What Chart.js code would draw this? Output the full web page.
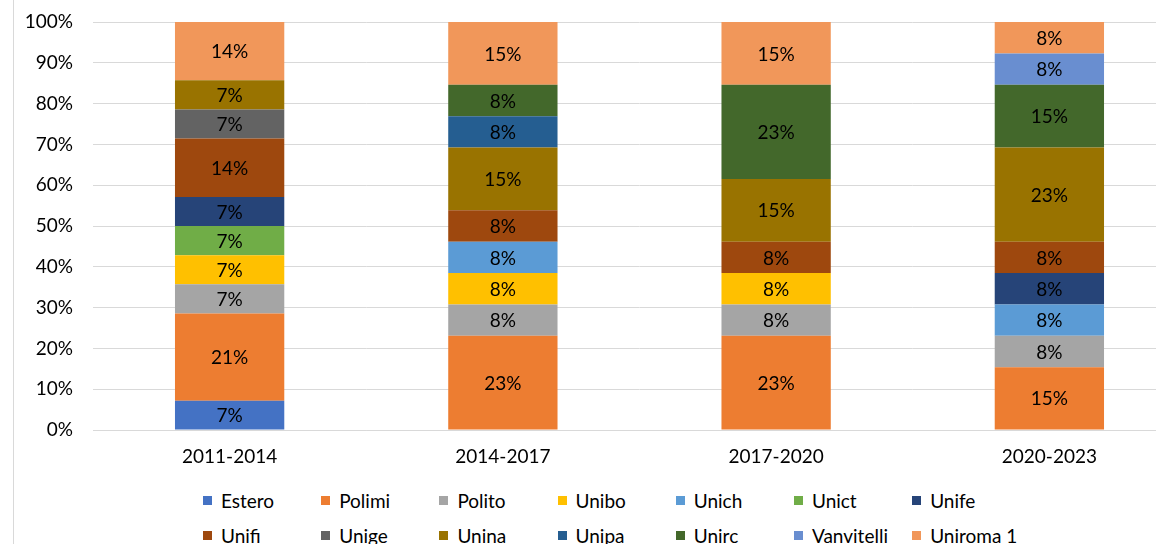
<!DOCTYPE html>
<html>
<head>
<meta charset="utf-8">
<script src="https://cdn.jsdelivr.net/npm/chart.js@4"></script>
<style>
  html, body { margin: 0; padding: 0; background: #fff; overflow: hidden; width: 1156px; height: 544px; }
  #wrap { position: absolute; left: 0; top: 0; width: 1186px; height: 470px; }
  #frame { position: absolute; left: 13px; top: 0; width: 1px; height: 544px; background: #d9d9d9; }
  #legend {
    position: absolute; left: 203px; top: 490px;
    display: grid; grid-template-columns: repeat(7, 118.2px); row-gap: 15px;
    font-family: Lato, sans-serif; font-size: 19px; color: #000;
  }
  .item { display: flex; align-items: center; height: 20px; white-space: nowrap; }
  .box { width: 9px; height: 9px; margin-right: 9px; flex: none; }
</style>
</head>
<body>
<div id="frame"></div>
<div id="wrap"><canvas id="chart" width="1186" height="470"></canvas></div>
<div id="legend"></div>
<script>
// periodi
const categories = ['2011-2014', '2014-2017', '2017-2020', '2020-2023'];

// quote percentuali per ateneo (una voce per periodo)
const estero     = [7.14, 0, 0, 0];
const polimi     = [21.43, 23.08, 23.08, 15.38];
const polito     = [7.14, 7.69, 7.69, 7.69];
const unibo      = [7.14, 7.69, 7.69, 0];
const unich      = [0, 7.69, 0, 7.69];
const unict      = [7.14, 0, 0, 0];
const unife      = [7.14, 0, 0, 7.69];
const unifi      = [14.29, 7.69, 7.69, 7.69];
const unige      = [7.14, 0, 0, 0];
const unina      = [7.14, 15.38, 15.38, 23.08];
const unipa      = [0, 7.69, 0, 0];
const unirc      = [0, 7.69, 23.08, 15.38];
const vanvitelli = [0, 0, 0, 7.69];
const uniroma1   = [14.29, 15.38, 15.38, 7.69];

const seriesNames = ['Estero', 'Polimi', 'Polito', 'Unibo', 'Unich', 'Unict', 'Unife',
                     'Unifi', 'Unige', 'Unina', 'Unipa', 'Unirc', 'Vanvitelli', 'Uniroma 1'];
const seriesValues = [estero, polimi, polito, unibo, unich, unict, unife,
                      unifi, unige, unina, unipa, unirc, vanvitelli, uniroma1];

// asse y
const yTicks = [0, 10, 20, 30, 40, 50, 60, 70, 80, 90, 100];

const colors = ['#4472C4', '#ED7D31', '#A5A5A5', '#FFC000', '#5B9BD5', '#70AD47', '#264478',
                '#9E480E', '#636363', '#997300', '#255E91', '#43682B', '#698ED0', '#F1975A'];

const FONT = 'Lato, sans-serif';

// etichette dentro i segmenti
const segmentLabels = {
    id: 'segmentLabels',
    afterDatasetsDraw(chart) {
        const ctx = chart.ctx;
        ctx.save();
        ctx.font = '19px ' + FONT;
        ctx.fillStyle = '#000';
        ctx.textAlign = 'center';
        ctx.textBaseline = 'middle';
        chart.data.datasets.forEach((ds, i) => {
            const meta = chart.getDatasetMeta(i);
            meta.data.forEach((bar, j) => {
                const v = ds.data[j];
                if (!v) return;
                ctx.fillText(Math.round(v) + '%', bar.x, (bar.y + bar.base) / 2 + 1);
            });
        });
        ctx.restore();
    }
};

const datasets = seriesNames.map((name, i) => ({
    label: name,
    data: seriesValues[i],
    backgroundColor: colors[i],
    borderWidth: 0,
    barPercentage: 0.4,
    categoryPercentage: 1
}));

new Chart(document.getElementById('chart').getContext('2d'), {
    type: 'bar',
    data: { labels: categories, datasets: datasets },
    plugins: [segmentLabels],
    options: {
        responsive: false,
        animation: false,
        layout: { padding: { top: 22, right: 0, bottom: 0, left: 0 } },
        plugins: { legend: { display: false }, tooltip: { enabled: false } },
        scales: {
            x: {
                stacked: true,
                grid: { display: false, drawTicks: false },
                border: { display: true, color: '#d9d9d9', width: 1 },
                ticks: { color: '#000', font: { family: FONT, size: 19 }, padding: 15, maxRotation: 0 },
                afterFit: s => { s.height = 40; }
            },
            y: {
                stacked: true,
                min: 0, max: 100,
                afterBuildTicks: s => { s.ticks = yTicks.map(v => ({ value: v })); },
                grid: { color: '#d9d9d9', lineWidth: 1, drawTicks: false },
                border: { display: false },
                ticks: { color: '#000', font: { family: FONT, size: 19 }, padding: 20, callback: v => v + '%' },
                afterFit: s => { s.width = 93; s.paddingTop = 0; s.paddingBottom = 0; }
            }
        }
    }
});

// legenda a griglia fissa come in Excel
const legend = document.getElementById('legend');
seriesNames.forEach((name, i) => {
    legend.innerHTML += `<div class="item"><span class="box" style="background:${colors[i]}"></span>${name}</div>`;
});
</script>
</body>
</html>
